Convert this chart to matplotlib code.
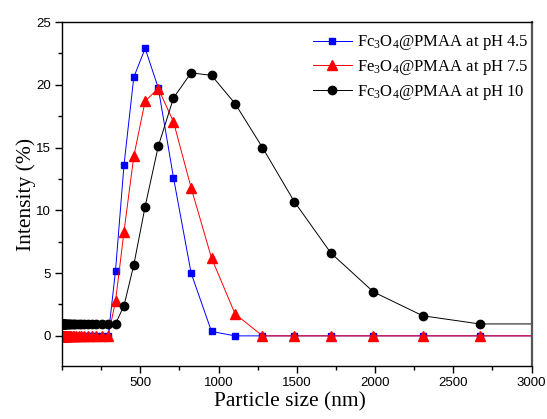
import matplotlib
matplotlib.use("Agg")
import matplotlib.pyplot as plt
from matplotlib.ticker import MultipleLocator

# Particle size bins (nm)
sizes = [0.4000, 0.4632, 0.5365, 0.6213, 0.7195, 0.8332, 0.9649, 1.117, 1.294, 1.499,
         1.736, 2.010, 2.328, 2.696, 3.122, 3.615, 4.187, 4.849, 5.615, 6.503,
         7.531, 8.721, 10.10, 11.70, 13.54, 15.69, 18.17, 21.04, 24.36, 28.21,
         32.67, 37.84, 43.82, 50.75, 58.77, 68.06, 78.82, 91.28, 105.7, 122.4,
         141.8, 164.2, 190.1, 220.2, 255.0, 295.3, 342.0, 396.1, 458.7, 531.2,
         615.1, 712.4, 825.0, 955.4, 1106, 1281, 1484, 1718, 1990, 2305,
         2669, 3091]

ph45 = [0, 0, 0, 0, 0, 0, 0, 0, 0, 0,
        0, 0, 0, 0, 0, 0, 0, 0, 0, 0,
        0, 0, 0, 0, 0, 0, 0, 0, 0, 0,
        0, 0, 0, 0, 0, 0, 0, 0, 0, 0,
        0, 0, 0, 0, 0, 0, 5.2, 13.6, 20.6, 22.9,
        19.75, 12.6, 5.0, 0.35, 0, 0, 0, 0, 0, 0,
        0, 0]

ph75 = [0, 0, 0, 0, 0, 0, 0, 0, 0, 0,
        0, 0, 0, 0, 0, 0, 0, 0, 0, 0,
        0, 0, 0, 0, 0, 0, 0, 0, 0, 0,
        0, 0, 0, 0, 0, 0, 0, 0, 0, 0,
        0, 0, 0, 0, 0, 0, 2.75, 8.3, 14.3, 18.7,
        19.7, 17.05, 11.8, 6.2, 1.75, 0, 0, 0, 0, 0,
        0, 0]

ph10 = [0.97, 0.97, 0.97, 0.97, 0.97, 0.97, 0.97, 0.97, 0.97, 0.97,
        0.97, 0.97, 0.97, 0.97, 0.97, 0.97, 0.97, 0.97, 0.97, 0.97,
        0.97, 0.97, 0.97, 0.97, 0.97, 0.97, 0.97, 0.97, 0.97, 0.97,
        0.97, 0.97, 0.97, 0.97, 0.97, 0.97, 0.97, 0.97, 0.97, 0.97,
        0.97, 0.97, 0.97, 0.97, 0.97, 0.97, 0.97, 2.4, 5.65, 10.3,
        15.1, 18.95, 20.95, 20.75, 18.5, 15.0, 10.7, 6.6, 3.5, 1.6,
        0.95, 0.95]

labels = ["Fc$_{3}$O$_{4}$@PMAA at pH 4.5",
          "Fe$_{3}$O$_{4}$@PMAA at pH 7.5",
          "Fc$_{3}$O$_{4}$@PMAA at pH 10"]

plt.rcParams['mathtext.fontset'] = 'custom'
plt.rcParams['mathtext.rm'] = 'Liberation Serif'
plt.rcParams['mathtext.it'] = 'Liberation Serif:italic'

fig = plt.figure(figsize=(5.47, 4.19), dpi=100)
ax = fig.add_axes([62 / 547, 1 - 366 / 419, (531.5 - 62) / 547, (366 - 22) / 419])

ax.plot(sizes, ph45, color='blue', lw=0.7, marker='s', ms=5, mec='blue', mfc='blue',
        label=labels[0])
ax.plot(sizes, ph75, color='red', lw=0.7, marker='^', ms=6.5, mec='red', mfc='red',
        label=labels[1])
ax.plot(sizes, ph10, color='black', lw=0.7, marker='o', ms=6, mec='black', mfc='black',
        label=labels[2])

ax.set_xlim(0, 3000)
ax.set_ylim(-2.4, 25)
ax.set_xticks([500, 1000, 1500, 2000, 2500, 3000])
ax.xaxis.set_minor_locator(MultipleLocator(250))
ax.set_yticks([0, 5, 10, 15, 20, 25])
ax.yaxis.set_minor_locator(MultipleLocator(2.5))

for lab in ax.get_xticklabels() + ax.get_yticklabels():
    lab.set_fontfamily('Liberation Sans')
    lab.set_fontsize(9.5)

ax.tick_params(which='major', direction='out', length=5, width=1, pad=3)
ax.tick_params(which='minor', direction='out', length=3, width=1)
ax.tick_params(top=False, right=False)
for s in ax.spines.values():
    s.set_linewidth(1.0)
ax.spines['right'].set_color('#555555')
ax.spines['right'].set_linewidth(1.6)

ax.set_xlabel("Particle size (nm)", family='Liberation Serif', fontsize=15.5, labelpad=2,
              x=0.4846)
ax.set_ylabel("Intensity (%)", family='Liberation Serif', fontsize=15.5, labelpad=0)

leg = ax.legend(loc='upper right', bbox_to_anchor=(0.993, 0.967), frameon=False,
                prop={'family': 'Liberation Serif', 'size': 12},
                handlelength=2.3, handletextpad=0.3, labelspacing=0.35,
                borderaxespad=0, borderpad=0)

fig.savefig("out.png", dpi=100)
